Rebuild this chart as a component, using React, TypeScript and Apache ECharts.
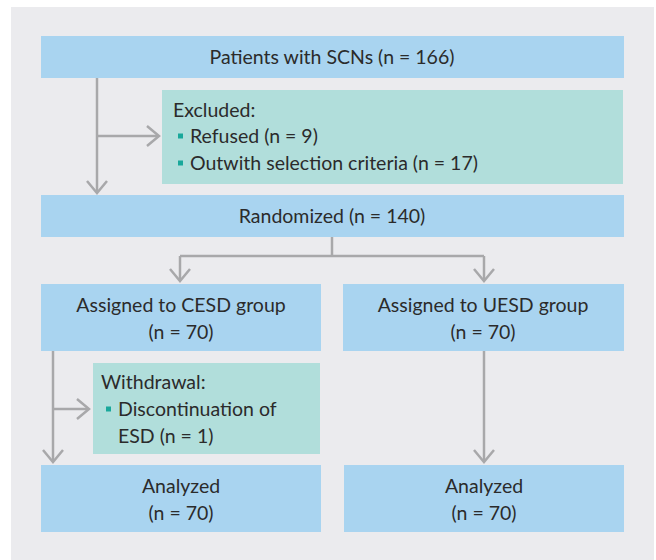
import React, { useEffect, useRef } from "react";
import * as echarts from "echarts";

// Flowchart content
const boxLabels = [
  "Patients with SCNs (n = 166)",
  "Randomized (n = 140)",
  "Assigned to CESD group\n(n = 70)",
  "Assigned to UESD group\n(n = 70)",
  "Analyzed\n(n = 70)",
  "Analyzed\n(n = 70)",
];
const excludedTitle = "Excluded:";
const excludedItems = ["Refused (n = 9)", "Outwith selection criteria (n = 17)"];
const withdrawalTitle = "Withdrawal:";
const withdrawalItems = ["Discontinuation of", "ESD (n = 1)"];

const BLUE = "#a9d4f0";
const TEAL = "#b1dedb";
const BG = "#ebebee";
const LINE = "#a8a8aa";
const BULLET = "#19a89b";
const TXT = "#2b2b2b";
const FONT = "Lato";
const FS = 19.5;

function downArrow(x: number, y1: number, y2: number): any[] {
  return [
    { type: "line", shape: { x1: x, y1, x2: x, y2: y2 - 1 }, style: { stroke: LINE, lineWidth: 2.5 } },
    { type: "polyline", shape: { points: [[x - 10, y2 - 12], [x, y2], [x + 10, y2 - 12]] }, style: { stroke: LINE, lineWidth: 2.5, fill: null } },
  ];
}
function rightArrow(x1: number, x2: number, y: number): any[] {
  return [
    { type: "line", shape: { x1, y1: y, x2: x2 - 1, y2: y }, style: { stroke: LINE, lineWidth: 2.5 } },
    { type: "polyline", shape: { points: [[x2 - 12, y - 10], [x2, y], [x2 - 12, y + 10]] }, style: { stroke: LINE, lineWidth: 2.5, fill: null } },
  ];
}
function box(x: number, y: number, w: number, h: number, fill: string): any {
  return { type: "rect", shape: { x, y, width: w, height: h }, style: { fill } };
}
function ctext(x: number, y: number, text: string): any {
  return {
    type: "text",
    x,
    y,
    style: { text, fill: TXT, font: `${FS}px ${FONT}`, align: "center", verticalAlign: "middle", lineHeight: 26.5 },
  };
}
function ltext(x: number, y: number, text: string): any {
  return {
    type: "text",
    x,
    y,
    style: { text, fill: TXT, font: `${FS}px ${FONT}`, align: "left", verticalAlign: "middle" },
  };
}
function bullet(x: number, y: number): any {
  return { type: "rect", shape: { x, y: y - 2.5, width: 5, height: 5 }, style: { fill: BULLET } };
}

export default function App() {
  const ref = useRef<HTMLDivElement>(null);
  useEffect(() => {
    if (!ref.current) return;
    const chart = echarts.init(ref.current, undefined, { renderer: "svg" });
    const els: any[] = [];
    els.push(box(11, 7, 643, 553, BG));
    // boxes
    els.push(box(41, 36, 583, 42, BLUE));
    els.push(box(162, 90, 461, 94, TEAL));
    els.push(box(41, 195, 583, 42, BLUE));
    els.push(box(41, 284, 280, 67, BLUE));
    els.push(box(343, 284, 281, 67, BLUE));
    els.push(box(93, 363, 227, 91, TEAL));
    els.push(box(41, 465, 280, 67, BLUE));
    els.push(box(344, 465, 280, 67, BLUE));
    // arrows
    els.push(...downArrow(97, 78, 193));
    els.push(...rightArrow(97, 159, 136));
    els.push({ type: "line", shape: { x1: 332, y1: 237, x2: 332, y2: 256 }, style: { stroke: LINE, lineWidth: 2.5 } });
    els.push({ type: "line", shape: { x1: 180, y1: 256, x2: 484, y2: 256 }, style: { stroke: LINE, lineWidth: 2.5 } });
    els.push(...downArrow(180, 256, 281));
    els.push(...downArrow(484, 256, 281));
    els.push(...downArrow(53, 351, 462));
    els.push(...rightArrow(53, 89, 409));
    els.push(...downArrow(484, 351, 462));
    // texts
    els.push(ctext(332, 56, boxLabels[0]));
    els.push(ctext(332, 215, boxLabels[1]));
    els.push(ctext(181, 318, boxLabels[2]));
    els.push(ctext(483, 318, boxLabels[3]));
    els.push(ctext(181, 499, boxLabels[4]));
    els.push(ctext(484, 499, boxLabels[5]));
    els.push(ltext(173, 109, excludedTitle));
    excludedItems.forEach((t, i) => {
      const y = 135 + i * 27;
      els.push(bullet(178, y + 1));
      els.push(ltext(190, y, t));
    });
    els.push(ltext(101, 381, withdrawalTitle));
    els.push(bullet(106, 409));
    withdrawalItems.forEach((t, i) => {
      els.push(ltext(118, 408 + i * 27, t));
    });
    chart.setOption({ animation: false, graphic: { elements: els } });
    return () => chart.dispose();
  }, []);
  return <div ref={ref} style={{ position: "fixed", left: 0, top: 0, width: 656, height: 560, background: "#fff" }} />;
}
